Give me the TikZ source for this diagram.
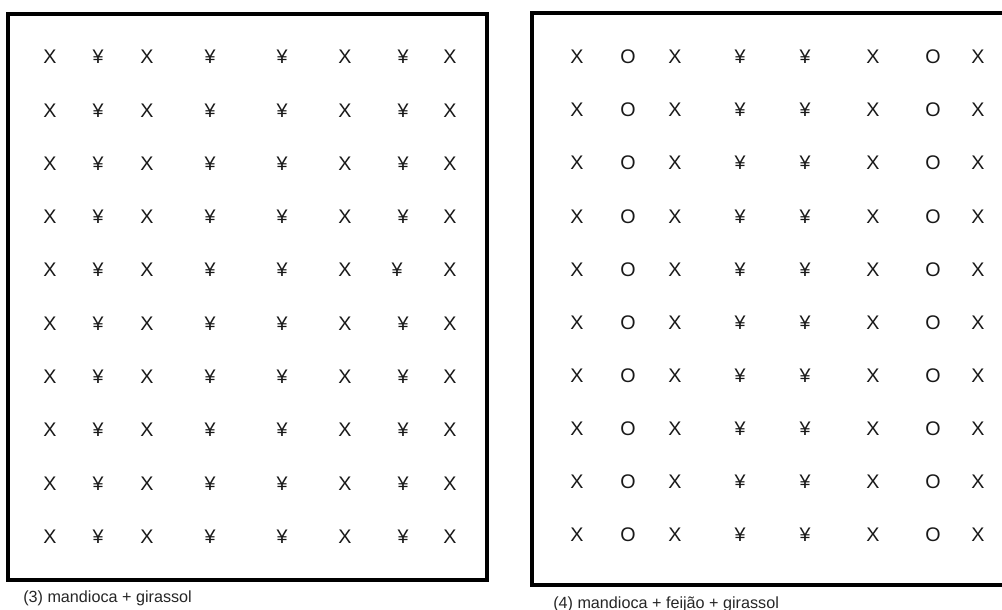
\documentclass[tikz,border=0pt]{standalone}
\usepackage{fontspec}
\setmainfont{Liberation Sans}
\usepackage{tikz}
\usetikzlibrary{calc}

\begin{document}
\begin{tikzpicture}[x=0.025cm, y=-0.025cm,
  plant/.style={inner sep=0pt, text=black!90, font=\fontsize{14}{16}\selectfont},
  caption/.style={anchor=west, inner sep=0pt, text=black!85, font=\fontsize{11.5}{13}\selectfont},
  plot/.style={line width=2.7pt, black}]
  \useasboundingbox (0,0) rectangle (1002,610);

  % ---- (3) mandioca + girassol ----
  \draw[plot] (8,14) rectangle (487,580);
  \foreach \x/\s [count=\c] in {50/X, 98/¥, 147/X, 210/¥, 282/¥, 345/X, 403/¥, 450/X}
    \foreach \r in {0,...,9} {
      \pgfmathsetmacro\dx{(\r==4 && \c==7) ? -6 : 0}
      \node[plant] (l-\r-\c) at (\x+\dx, 57+53.3*\r) {\s};
    }
  \node[caption] (cap-l) at (23,598) {(3) mandioca + girassol};

  % ---- (4) mandioca + feijão + girassol ----
  \draw[plot] (1006,13) -- (532,13) -- (532,585) -- (1006,585);
  \foreach \x/\s [count=\c] in {577/X, 628/O, 675/X, 740/¥, 805/¥, 873/X, 933/O, 978/X}
    \foreach \r in {0,...,9}
      \node[plant] (r-\r-\c) at (\x, 57+53.1*\r) {\s};
  \node[caption] (cap-r) at (553,604) {(4) mandioca + feijão + girassol};
\end{tikzpicture}
\end{document}
